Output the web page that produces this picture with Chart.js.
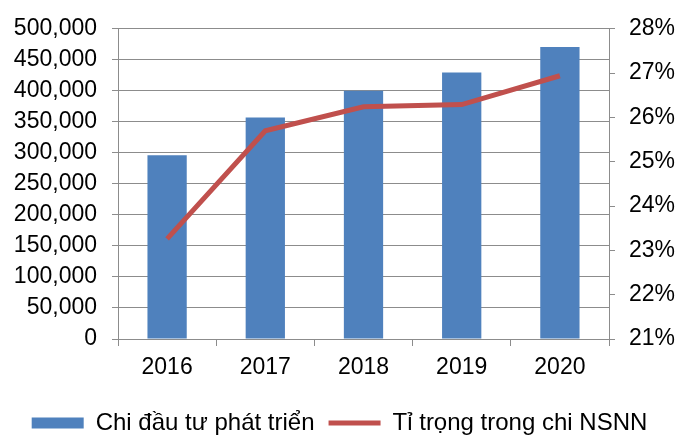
<!DOCTYPE html>
<html>
<head>
<meta charset="utf-8">
<script src="https://cdn.jsdelivr.net/npm/chart.js@4"></script>
<style>
  html, body { margin: 0; padding: 0; background: #fff; }
  #wrap { width: 679px; height: 435px; }
</style>
</head>
<body>
<div id="wrap"><canvas id="myChart" width="679" height="435"></canvas></div>
<script>
const years = ['2016', '2017', '2018', '2019', '2020'];
const chiDauTu = [296000, 357000, 400000, 429500, 470500];
const tiTrong = [23.26, 25.7, 26.24, 26.29, 26.94];

const gridColor = '#8c8c8c';
const fontFamily = '"Liberation Sans", Arial, sans-serif';

const ctx = document.getElementById('myChart').getContext('2d');
new Chart(ctx, {
    type: 'bar',
    data: {
        labels: years,
        datasets: [{
            type: 'line',
            label: 'Tỉ trọng trong chi NSNN',
            data: tiTrong,
            yAxisID: 'y1',
            borderColor: '#C0504D',
            backgroundColor: '#C0504D',
            borderWidth: 5,
            pointRadius: 0,
            tension: 0,
            order: 0
        }, {
            label: 'Chi đầu tư phát triển',
            data: chiDauTu,
            yAxisID: 'y',
            backgroundColor: '#4F81BD',
            borderWidth: 0,
            barPercentage: 0.4,
            categoryPercentage: 1,
            order: 1
        }]
    },
    options: {
        responsive: false,
        animation: false,
        maintainAspectRatio: false,
        layout: { padding: { top: 23, left: 0, right: 0, bottom: -10 } },
        scales: {
            x: {
                offset: true,
                grid: { offset: true, drawOnChartArea: false, color: gridColor, tickLength: 7 },
                border: { color: gridColor },
                ticks: { color: '#000', font: { family: fontFamily, size: 23 }, padding: 8 },
                afterFit: function (scale) { scale.height = 58; }
            },
            y: {
                position: 'left',
                min: 0,
                max: 500000,
                grid: { color: gridColor, tickLength: 6 },
                border: { color: gridColor },
                ticks: {
                    stepSize: 50000,
                    color: '#000',
                    padding: 15,
                    font: { family: fontFamily, size: 23 },
                    callback: function (v) { return v.toLocaleString('en-US'); }
                },
                afterFit: function (scale) { scale.width = 118; }
            },
            y1: {
                position: 'right',
                min: 21,
                max: 28,
                grid: { drawOnChartArea: false, color: gridColor, tickLength: 6 },
                border: { color: gridColor },
                ticks: {
                    stepSize: 1,
                    color: '#000',
                    padding: 14,
                    font: { family: fontFamily, size: 23 },
                    callback: function (v) { return v + '%'; }
                },
                afterFit: function (scale) { scale.width = 70; }
            }
        },
        plugins: {
            tooltip: { enabled: false },
            legend: {
                position: 'bottom',
                reverse: true,
                labels: {
                    color: '#000',
                    font: { family: fontFamily, size: 24 },
                    usePointStyle: true,
                    pointStyleWidth: 52,
                    boxHeight: 11,
                    padding: 14,
                    generateLabels: function (chart) {
                        const items = Chart.defaults.plugins.legend.labels.generateLabels(chart);
                        items.forEach(function (it) {
                            const ds = chart.data.datasets[it.datasetIndex];
                            if (ds.type === 'line') {
                                it.pointStyle = 'line';
                                it.lineWidth = 5;
                                it.strokeStyle = '#C0504D';
                            } else {
                                it.pointStyle = 'rect';
                                it.lineWidth = 0;
                            }
                        });
                        return items;
                    }
                }
            }
        }
    }
});
</script>
</body>
</html>
